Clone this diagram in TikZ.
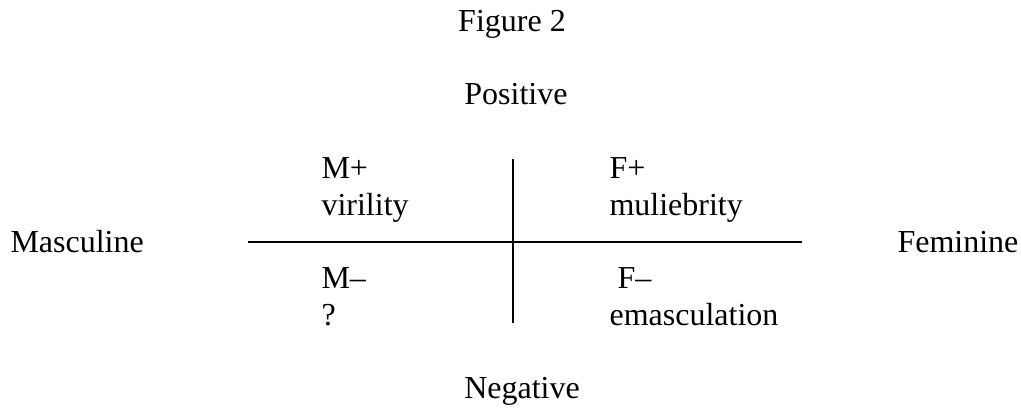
\documentclass[tikz,border=0pt,12pt]{standalone}
\usepackage{fontspec}
\setmainfont{Liberation Serif}
\usepackage{tikz}

\begin{document}
\begin{tikzpicture}[x=.375pt,y=-.375pt,lbl/.style={inner sep=0pt,anchor=base west},axis/.style={line width=.75pt}]
    \useasboundingbox(0,0)rectangle(1021,408);
    \node[inner sep=0pt,anchor=base](title)at(512,31){Figure 2};
    \node[inner sep=0pt,anchor=base](pos)at(516,104){Positive};
    \node[inner sep=0pt,anchor=base](neg)at(522,398){Negative};
    \node[lbl](masc)at(10,252){Masculine};
    \node[lbl](fem)at(897,252){Feminine};
    \coordinate(left)at(248,242);
    \coordinate(right)at(802,242);
    \coordinate(top)at(513,159);
    \coordinate(bottom)at(513,323);
    \draw[axis](left)--(right);
    \draw[axis](top)--(bottom);
    \node[lbl](mplus)at(321,178){M+};
    \node[lbl](viril)at(321,215){virility};
    \node[lbl](mminus)at(321,288){M–};
    \node[lbl](unknown)at(321,325){?};
    \node[lbl](fplus)at(609,178){F+};
    \node[lbl](mulie)at(609,215){muliebrity};
    \node[lbl](fminus)at(617,288){F–};
    \node[lbl](emasc)at(609,325){emasculation};
  \end{tikzpicture}
\end{document}
